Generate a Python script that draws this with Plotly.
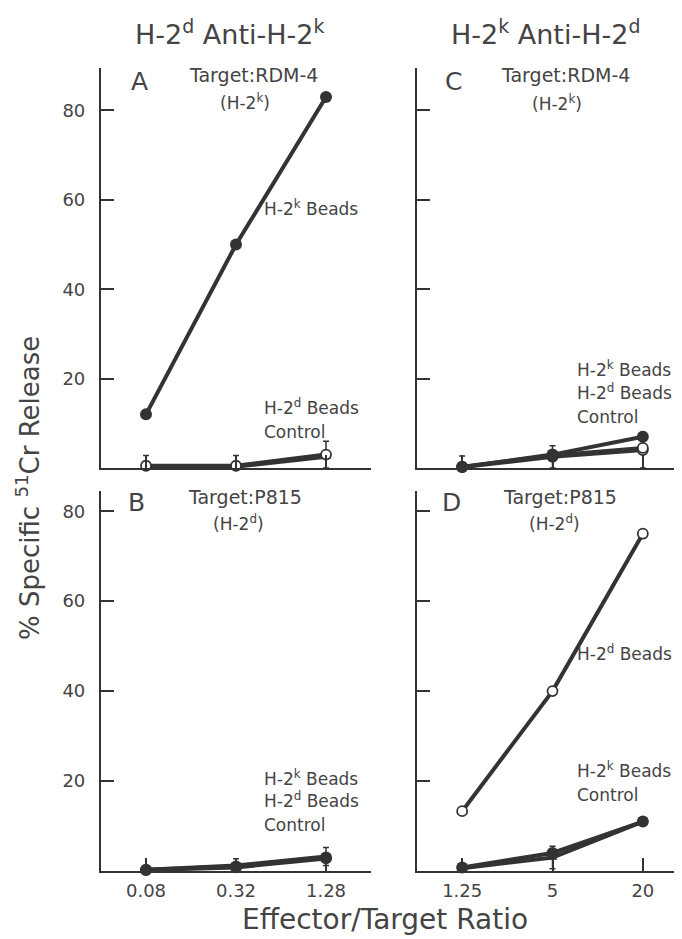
import math
import plotly.graph_objects as go

W, H = 682, 939

# ---------------- data ----------------
et_left = [0.08, 0.32, 1.28]
et_right = [1.25, 5, 20]
et_left_labels = ["0.08", "0.32", "1.28"]
et_right_labels = ["1.25", "5", "20"]

# Panel A: H-2d anti-H-2k, target RDM-4 (H-2k)
a_k_beads = [12, 50, 83]
a_d_beads = [0.5, 0.5, 3]
a_control = [0.3, 0.3, 2.5]
a_d_err = [0, 0, 3]
a_control_err = [2.5, 2.5, 0]

# Panel B: H-2d anti-H-2k, target P815 (H-2d)
b_k_beads = [0.3, 1, 3]
b_d_beads = [0.2, 0.8, 2.8]
b_control = [0.3, 1.2, 3.2]
b_control_err = [0, 1.5, 2]

# Panel C: H-2k anti-H-2d, target RDM-4 (H-2k)
c_k_beads = [0.2, 3, 7]
c_d_beads = [0.3, 2.8, 4.5]
c_control = [0.2, 2.5, 4]
c_control_err = [2.5, 2.5, 4]

# Panel D: H-2k anti-H-2d, target P815 (H-2d)
d_d_beads = [13.3, 40, 75]
d_k_beads = [0.8, 4, 11]
d_control = [0.6, 3, 11]
d_control_err = [1, 2.5, 0]

y_ticks = [20, 40, 60, 80]

# ---------------- style ----------------
INK = "#333333"
TXT = "#444444"
FONT = "DejaVu Sans, Liberation Sans, Arial, sans-serif"

fig = go.Figure()


def add_series(ax, x, y, kind, err=None):
    if kind == "k":
        marker = dict(symbol="circle", size=12, color=INK, line=dict(width=0))
    elif kind == "d":
        marker = dict(symbol="circle", size=10, color="white", line=dict(width=1.8, color=INK))
    else:
        marker = dict(symbol="triangle-up", size=9, color=INK, line=dict(width=0))
    tr = go.Scatter(
        x=x, y=y, mode="lines+markers",
        line=dict(color=INK, width=4),
        marker=marker, cliponaxis=False, showlegend=False,
        xaxis="x" + ax, yaxis="y" + ax,
    )
    if err is not None:
        tr.error_y = dict(type="data", array=err, visible=True, color=INK,
                          thickness=1.5, width=3)
    fig.add_trace(tr)


# Panel A -> axis "" ; B -> "2" ; C -> "3" ; D -> "4"
add_series("", et_left, a_control, "c", a_control_err)
add_series("", et_left, a_d_beads, "d", a_d_err)
add_series("", et_left, a_k_beads, "k")

add_series("2", et_left, b_d_beads, "d")
add_series("2", et_left, b_control, "c", b_control_err)
add_series("2", et_left, b_k_beads, "k")

add_series("3", et_right, c_control, "d", c_control_err)
add_series("3", et_right, c_d_beads, "d")
add_series("3", et_right, c_k_beads, "k")

add_series("4", et_right, d_control, "c", d_control_err)
add_series("4", et_right, d_k_beads, "k")
add_series("4", et_right, d_d_beads, "d")


def px_x(p):
    return p / W


def px_y(p):
    return 1 - p / H


def xaxis(vals, labels, dom, show_labels, anchor):
    step = vals[1] / vals[0]
    half = 0.5 * math.log10(step)
    rng = [math.log10(vals[0]) - half, math.log10(vals[-1]) + half]
    end_cap = vals[-1] * step ** 0.5 * 0.995
    return dict(
        type="log", domain=dom, range=rng, anchor=anchor,
        tickvals=vals, ticktext=labels, showticklabels=show_labels,
        ticks="inside", ticklen=13, tickwidth=1.8, tickcolor=INK,
        minor=dict(tickvals=[end_cap], ticks="inside", ticklen=12,
                   tickwidth=1.8, tickcolor=INK, showgrid=False),
        showline=True, linecolor=INK, linewidth=2.2,
        showgrid=False, zeroline=False, automargin=False,
        tickfont=dict(family=FONT, size=18, color=TXT),
        ticklabelstandoff=2,
    )


def yaxis(dom, top, show_labels, anchor):
    return dict(
        domain=dom, range=[0, top], anchor=anchor,
        tickvals=y_ticks, ticktext=[str(v) for v in y_ticks],
        showticklabels=show_labels,
        ticks="inside", ticklen=13, tickwidth=1.8, tickcolor=INK,
        showline=True, linecolor=INK, linewidth=2.2,
        showgrid=False, zeroline=False, automargin=False,
        tickfont=dict(family=FONT, size=18, color=TXT),
        ticklabelstandoff=10,
    )


left_dom = [px_x(93), px_x(363)]
right_dom = [px_x(409), px_x(680)]
top_dom = [px_y(460), px_y(60)]
bot_dom = [px_y(863), px_y(483)]

fig.update_layout(
    width=W, height=H,
    margin=dict(l=0, r=0, t=0, b=0),
    paper_bgcolor="white", plot_bgcolor="white",
    xaxis=xaxis(et_left, et_left_labels, left_dom, False, "y"),
    yaxis=yaxis(top_dom, 89.5, True, "x"),
    xaxis2=xaxis(et_left, et_left_labels, left_dom, True, "y2"),
    yaxis2=yaxis(bot_dom, 84.5, True, "x2"),
    xaxis3=xaxis(et_right, et_right_labels, right_dom, False, "y3"),
    yaxis3=yaxis(top_dom, 89.5, False, "x3"),
    xaxis4=xaxis(et_right, et_right_labels, right_dom, True, "y4"),
    yaxis4=yaxis(bot_dom, 84.5, False, "x4"),
)


def note(text, x, y, size=16, xanchor="center", angle=0):
    fig.add_annotation(
        text=text, x=px_x(x), y=px_y(y), xref="paper", yref="paper",
        xanchor=xanchor, yanchor="middle", showarrow=False, textangle=angle,
        font=dict(family=FONT, size=size, color=TXT), borderpad=0,
    )


# column titles
note("H-2<sup>d</sup> Anti-H-2<sup>k</sup>", 221, 24, size=27)
note("H-2<sup>k</sup> Anti-H-2<sup>d</sup>", 537, 24, size=27)

# panel letters
note("A", 131, 73, size=25)
note("B", 128, 495, size=25)
note("C", 445, 73, size=25)
note("D", 443, 495, size=25)

# targets
note("Target:RDM-4", 245, 67, size=19)
note("(H-2<sup>k</sup>)", 237, 94, size=17)
note("Target:RDM-4", 557, 67, size=19)
note("(H-2<sup>k</sup>)", 549, 95, size=17)
note("Target:P815", 237, 489, size=19)
note("(H-2<sup>d</sup>)", 231, 515, size=17)
note("Target:P815", 552, 489, size=19)
note("(H-2<sup>d</sup>)", 546, 515, size=17)

# series labels
LX_L, LX_R = 255, 568
LS = 17
note("H-2<sup>k</sup> Beads", LX_L, 200, size=LS, xanchor="left")
note("H-2<sup>d</sup> Beads", LX_L, 399, size=LS, xanchor="left")
note("Control", LX_L, 424, size=LS, xanchor="left")

note("H-2<sup>k</sup> Beads", LX_R, 361, size=LS, xanchor="left")
note("H-2<sup>d</sup> Beads", LX_R, 384, size=LS, xanchor="left")
note("Control", LX_R, 409, size=LS, xanchor="left")

note("H-2<sup>k</sup> Beads", LX_L, 770, size=LS, xanchor="left")
note("H-2<sup>d</sup> Beads", LX_L, 792, size=LS, xanchor="left")
note("Control", LX_L, 817, size=LS, xanchor="left")

note("H-2<sup>d</sup> Beads", LX_R, 645, size=LS, xanchor="left")
note("H-2<sup>k</sup> Beads", LX_R, 762, size=LS, xanchor="left")
note("Control", LX_R, 787, size=LS, xanchor="left")

# axis titles
note("% Specific <sup>51</sup>Cr Release", 20, 480, size=26, angle=-90)
note("Effector/Target Ratio", 377, 911, size=28)

fig.write_html("out.html")
